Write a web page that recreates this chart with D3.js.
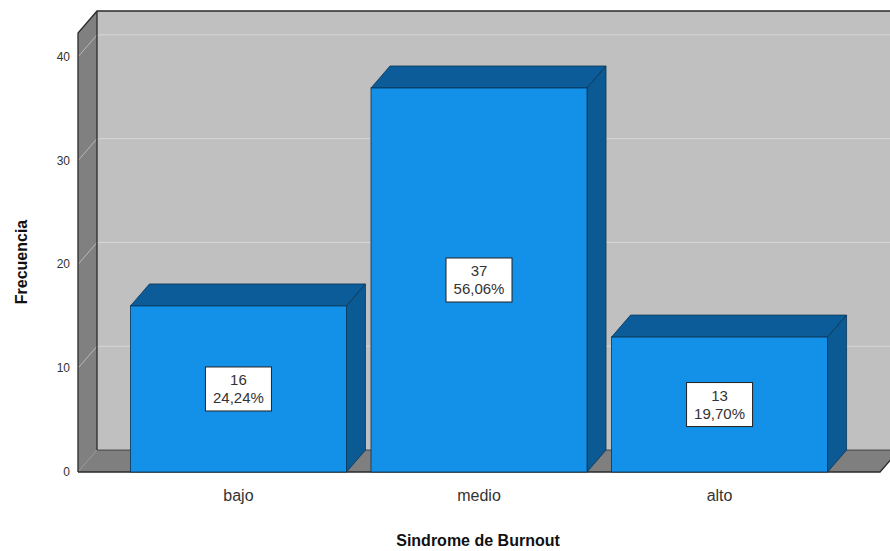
<!DOCTYPE html>
<html>
<head>
<meta charset="utf-8">
<script src="https://cdn.jsdelivr.net/npm/d3@7/dist/d3.min.js"></script>
<style>
  html, body { margin: 0; padding: 0; background: #fff; }
  svg { display: block; font-family: "Liberation Sans", Arial, sans-serif; }
</style>
</head>
<body>
<svg id="chart" width="890" height="551"></svg>
<script>
// Frequency of burnout levels
const categories = ["bajo", "medio", "alto"];
const counts = [16, 37, 13];
const percents = ["24,24%", "56,06%", "19,70%"];
const yTicks = [0, 10, 20, 30, 40];

const svg = d3.select("#chart");

// Front plane of the 3D box and the depth offset to the back wall
const front = { left: 78, right: 880, top: 33, bottom: 472 };
const depth = { dx: 19, dy: -22 };

const x = d3.scaleBand()
  .domain(categories)
  .range([front.left, front.right])
  .paddingInner(0.102)
  .paddingOuter(0.218);

const y = d3.scaleLinear()
  .domain([0, 42.3])
  .range([front.bottom, front.top]);

const pts = a => a.map(p => p.join(",")).join(" ");

// Back wall
svg.append("polygon")
  .attr("points", pts([
    [front.left + depth.dx, front.top + depth.dy],
    [front.right + depth.dx + 20, front.top + depth.dy],
    [front.right + depth.dx + 20, front.bottom + depth.dy],
    [front.left + depth.dx, front.bottom + depth.dy]
  ]))
  .attr("fill", "#c0c0c0");

// Gridlines on the back wall
svg.append("g").selectAll("line.grid")
  .data(yTicks)
  .join("line")
  .attr("x1", front.left + depth.dx)
  .attr("x2", 900)
  .attr("y1", d => y(d) + depth.dy)
  .attr("y2", d => y(d) + depth.dy)
  .attr("stroke", "#d6d6d6")
  .attr("stroke-width", 1);

// Left wall
svg.append("polygon")
  .attr("points", pts([
    [front.left, front.bottom],
    [front.left, front.top],
    [front.left + depth.dx, front.top + depth.dy],
    [front.left + depth.dx, front.bottom + depth.dy]
  ]))
  .attr("fill", "#808080");

// Slanted gridlines on the left wall
svg.append("g").selectAll("line")
  .data(yTicks.filter(d => d > 0))
  .join("line")
  .attr("x1", front.left)
  .attr("y1", d => y(d))
  .attr("x2", front.left + depth.dx)
  .attr("y2", d => y(d) + depth.dy)
  .attr("stroke", "#b8b8b8")
  .attr("stroke-width", 1);

// Floor
svg.append("polygon")
  .attr("points", pts([
    [front.left, front.bottom],
    [front.right, front.bottom],
    [front.right + depth.dx, front.bottom + depth.dy],
    [front.left + depth.dx, front.bottom + depth.dy]
  ]))
  .attr("fill", "#7f7f7f");

// Frame edges
const edge = svg.append("g").attr("fill", "none").attr("stroke", "#2a2a2a").attr("stroke-width", 1.3);
edge.append("polyline").attr("points", pts([
  [front.left, front.bottom],
  [front.left, front.top],
  [front.left + depth.dx, front.top + depth.dy],
  [900, front.top + depth.dy]
]));
edge.append("line")
  .attr("x1", front.left + depth.dx).attr("y1", front.top + depth.dy)
  .attr("x2", front.left + depth.dx).attr("y2", front.bottom + depth.dy);
edge.append("line")
  .attr("x1", front.left + depth.dx).attr("y1", front.bottom + depth.dy)
  .attr("x2", front.right + depth.dx).attr("y2", front.bottom + depth.dy)
  .attr("stroke-width", 0.8);
edge.append("polyline").attr("points", pts([
  [front.left, front.bottom],
  [front.right, front.bottom],
  [front.right + depth.dx, front.bottom + depth.dy]
]));

// Bars as 3D boxes
const bars = svg.append("g").selectAll("g.bar")
  .data(categories.map((c, i) => ({ c, v: counts[i], p: percents[i] })))
  .join("g");

bars.append("polygon") // top face
  .attr("points", d => {
    const x0 = x(d.c), x1 = x(d.c) + x.bandwidth(), yt = y(d.v);
    return pts([[x0, yt], [x1, yt], [x1 + depth.dx, yt + depth.dy], [x0 + depth.dx, yt + depth.dy]]);
  })
  .attr("fill", "#0b5c98")
  .attr("stroke", "#0a3556").attr("stroke-width", 0.8);

bars.append("polygon") // side face
  .attr("points", d => {
    const x1 = x(d.c) + x.bandwidth(), yt = y(d.v), yb = y(0);
    return pts([[x1, yt], [x1 + depth.dx, yt + depth.dy], [x1 + depth.dx, yb + depth.dy], [x1, yb]]);
  })
  .attr("fill", "#0b5a94")
  .attr("stroke", "#0a3556").attr("stroke-width", 0.8);

bars.append("rect") // front face
  .attr("x", d => x(d.c))
  .attr("y", d => y(d.v))
  .attr("width", x.bandwidth())
  .attr("height", d => y(0) - y(d.v))
  .attr("fill", "#1390e8")
  .attr("stroke", "#0a3556").attr("stroke-width", 0.8);

// Value labels
const lab = bars.append("g")
  .attr("transform", d => `translate(${x(d.c) + x.bandwidth() / 2},${(y(d.v) + y(0)) / 2})`);
lab.append("rect")
  .attr("x", -33).attr("y", -22).attr("width", 66).attr("height", 44)
  .attr("fill", "#fff").attr("stroke", "#222").attr("stroke-width", 1);
lab.append("text")
  .attr("text-anchor", "middle").attr("y", -4)
  .attr("font-size", 15).attr("fill", "#333")
  .text(d => d.v);
lab.append("text")
  .attr("text-anchor", "middle").attr("y", 14)
  .attr("font-size", 15).attr("fill", "#333")
  .text(d => d.p);

// Y axis tick labels
svg.append("g").selectAll("text")
  .data(yTicks)
  .join("text")
  .attr("x", 70)
  .attr("y", d => y(d) + 4)
  .attr("text-anchor", "end")
  .attr("font-size", 12)
  .attr("fill", "#333")
  .text(d => d);

// X axis category labels
svg.append("g").selectAll("text")
  .data(categories)
  .join("text")
  .attr("x", d => x(d) + x.bandwidth() / 2)
  .attr("y", 501)
  .attr("text-anchor", "middle")
  .attr("font-size", 16)
  .attr("fill", "#333")
  .text(d => d);

// Axis titles
svg.append("text")
  .attr("x", (front.left + front.right) / 2 - 1)
  .attr("y", 546)
  .attr("text-anchor", "middle")
  .attr("font-size", 16)
  .attr("font-weight", "bold")
  .attr("fill", "#111")
  .text("Sindrome de Burnout");

svg.append("text")
  .attr("transform", "translate(27,262) rotate(-90)")
  .attr("text-anchor", "middle")
  .attr("font-size", 16)
  .attr("font-weight", "bold")
  .attr("fill", "#111")
  .text("Frecuencia");
</script>
</body>
</html>
